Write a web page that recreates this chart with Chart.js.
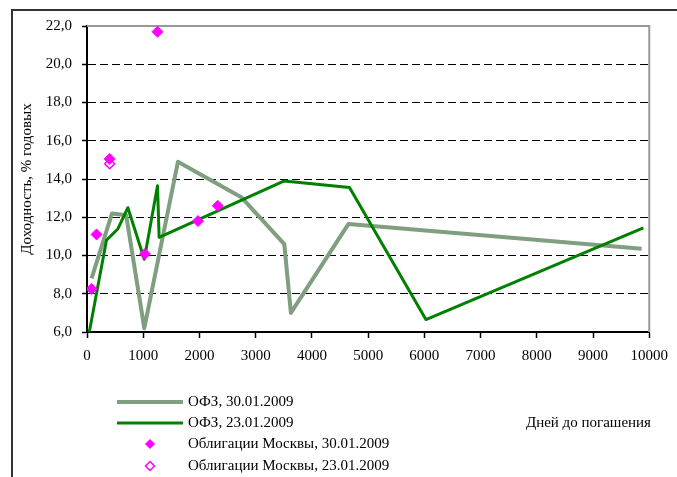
<!DOCTYPE html>
<html>
<head>
<meta charset="utf-8">
<script src="https://cdn.jsdelivr.net/npm/chart.js@4"></script>
<style>
  html, body { margin: 0; padding: 0; background: #fff; }
  #wrap { width: 677px; height: 477px; }
</style>
</head>
<body>
<div id="wrap"><canvas id="myChart" width="677" height="477"></canvas></div>
<script>
// OFZ curve, 30.01.2009
var ofz30Days  = [82, 445, 697, 1019, 1617, 2744, 3509, 3626, 4651, 9865];
var ofz30Yield = [8.8, 12.2, 12.1, 6.2, 14.9, 13.05, 10.6, 7.0, 11.65, 10.35];
// OFZ curve, 23.01.2009
var ofz23Days  = [41, 346, 551, 727, 1019, 1254, 1283, 3509, 4669, 6028, 9895];
var ofz23Yield = [6.0, 10.8, 11.4, 12.5, 9.8, 13.65, 10.95, 13.9, 13.55, 6.65, 11.45];
// Moscow bonds
var mos30Days  = [82, 170, 404, 1031, 1254, 1974, 2326];
var mos30Yield = [8.25, 11.1, 15.05, 10.08, 21.7, 11.8, 12.6];
var mos23Days  = [404];
var mos23Yield = [14.8];

var yTicks = [6, 8, 10, 12, 14, 16, 18, 20, 22];
var xTicks = [0, 1000, 2000, 3000, 4000, 5000, 6000, 7000, 8000, 9000, 10000];

function pts(xs, ys) {
  return xs.map(function (x, i) { return {x: x, y: ys[i]}; });
}

var FONT = 'Liberation Serif, Times New Roman, serif';

var extras = {
  id: 'extras',
  beforeDatasetsDraw: function (chart) {
    var c = chart.ctx, a = chart.chartArea;
    c.save();
    c.strokeStyle = '#999';
    c.lineWidth = 2;
    c.beginPath();
    c.moveTo(a.left, a.top);
    c.lineTo(a.right, a.top);
    c.lineTo(a.right, a.bottom);
    c.stroke();
    c.restore();
  },
  afterDraw: function (chart) {
    var c = chart.ctx;
    var ds = chart.data.datasets;
    c.save();
    // outer frame
    c.strokeStyle = '#333';
    c.lineWidth = 2;
    c.beginPath();
    c.moveTo(12, 477);
    c.lineTo(12, 10);
    c.lineTo(677, 10);
    c.stroke();

    // legend
    c.font = '15px ' + FONT;
    c.fillStyle = '#000';
    c.textBaseline = 'middle';
    c.textAlign = 'left';
    var rows = [402, 423, 444, 466];
    var order = [3, 2, 0, 1];
    order.forEach(function (di, r) {
      var d = ds[di], y = rows[r];
      if (d.showLine) {
        c.strokeStyle = d.borderColor;
        c.lineWidth = d.borderWidth;
        c.beginPath();
        c.moveTo(117, y);
        c.lineTo(183, y);
        c.stroke();
      } else {
        var s = 4.5;
        c.beginPath();
        c.moveTo(150, y - s);
        c.lineTo(150 + s, y);
        c.lineTo(150, y + s);
        c.lineTo(150 - s, y);
        c.closePath();
        c.fillStyle = d.backgroundColor;
        c.fill();
        c.strokeStyle = d.borderColor;
        c.lineWidth = d.borderWidth;
        c.stroke();
      }
      c.fillStyle = '#000';
      c.fillText(d.label, 188, y);
    });

    // x axis title
    c.textAlign = 'right';
    c.fillText('Дней до погашения', 651, 423);
    c.restore();
  }
};

var ctx = document.getElementById('myChart').getContext('2d');
var myChart = new Chart(ctx, {
  type: 'scatter',
  data: {
    datasets: [{
        label: 'Облигации Москвы, 30.01.2009',
        data: pts(mos30Days, mos30Yield),
        pointStyle: 'rectRot',
        pointRadius: 5.5,
        backgroundColor: '#ff00ff',
        borderColor: '#ff00ff',
        borderWidth: 1,
        order: 0
      }, {
        label: 'Облигации Москвы, 23.01.2009',
        data: pts(mos23Days, mos23Yield),
        pointStyle: 'rectRot',
        pointRadius: 5,
        backgroundColor: '#ffffff',
        borderColor: '#ff00ff',
        borderWidth: 1.5,
        order: 1
      }, {
        label: 'ОФЗ, 23.01.2009',
        data: pts(ofz23Days, ofz23Yield),
        showLine: true,
        pointRadius: 0,
        borderColor: '#008000',
        backgroundColor: '#008000',
        borderWidth: 3,
        borderJoinStyle: 'round',
        tension: 0,
        order: 2
      }, {
        label: 'ОФЗ, 30.01.2009',
        data: pts(ofz30Days, ofz30Yield),
        showLine: true,
        pointRadius: 0,
        borderColor: 'rgb(128, 158, 128)',
        backgroundColor: 'rgb(128, 158, 128)',
        borderWidth: 4,
        borderJoinStyle: 'round',
        tension: 0,
        order: 3
      }
    ]
  },
  options: {
    responsive: false,
    animation: false,
    layout: { padding: { left: 12, top: 26, right: 21, bottom: 0 } },
    plugins: {
      legend: { display: false },
      tooltip: { enabled: false }
    },
    scales: {
      x: {
        type: 'linear',
        min: 0,
        max: 10000,
        afterBuildTicks: function (scale) {
          scale.ticks = xTicks.map(function (v) { return {value: v}; });
        },
        afterFit: function (scale) { scale.height = 145; },
        ticks: {
          color: '#000',
          font: { family: FONT, size: 15 },
          padding: 9,
          maxRotation: 0,
          callback: function (v) { return String(v); }
        },
        grid: {
          drawOnChartArea: false,
          drawTicks: true,
          tickLength: 6,
          tickColor: '#000',
          tickWidth: 1.5
        },
        border: { color: '#000', width: 2 }
      },
      y: {
        min: 6,
        max: 22,
        afterBuildTicks: function (scale) {
          scale.ticks = yTicks.map(function (v) { return {value: v}; });
        },
        afterFit: function (scale) { scale.width = 75; },
        ticks: {
          color: '#000',
          font: { family: FONT, size: 15 },
          padding: 10,
          callback: function (v) { return v.toFixed(1).replace('.', ','); }
        },
        grid: {
          color: function (c) { return (c.tick && (c.tick.value === 22 || c.tick.value === 6)) ? 'rgba(0,0,0,0)' : '#000'; },
          lineWidth: 1,
          drawTicks: true,
          tickLength: 5,
          tickColor: '#000',
          tickWidth: 1.5,
          tickBorderDash: []
        },
        border: { color: '#000', width: 2, dash: [8, 4] },
        title: {
          display: true,
          text: 'Доходность, % годовых',
          color: '#000',
          font: { family: FONT, size: 15 },
          padding: { top: 6, bottom: 0 }
        }
      }
    }
  },
  plugins: [extras]
});
</script>
</body>
</html>
